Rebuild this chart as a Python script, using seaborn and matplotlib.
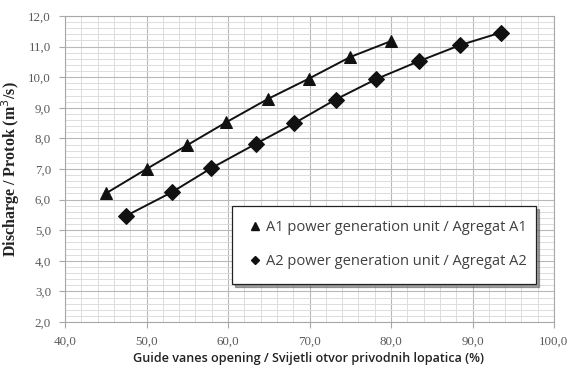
import matplotlib
matplotlib.use("Agg")
import matplotlib.pyplot as plt
from matplotlib.lines import Line2D
from matplotlib.ticker import MultipleLocator, FuncFormatter
import seaborn as sns
import pandas as pd

# Guide vane opening (%) and discharge (m3/s) for the two units
a1_opening = [45.0, 50.0, 55.0, 59.8, 64.9, 69.9, 75.0, 80.0]
a1_discharge = [6.20, 7.00, 7.78, 8.53, 9.29, 9.95, 10.66, 11.18]
a2_opening = [47.5, 53.1, 57.9, 63.4, 68.1, 73.2, 78.2, 83.4, 88.5, 93.5]
a2_discharge = [5.47, 6.24, 7.02, 7.82, 8.49, 9.27, 9.94, 10.52, 11.05, 11.46]

label_a1 = "A1 power generation unit / Agregat A1"
label_a2 = "A2 power generation unit / Agregat A2"

df = pd.concat([
    pd.DataFrame({"opening": a1_opening, "discharge": a1_discharge, "unit": label_a1}),
    pd.DataFrame({"opening": a2_opening, "discharge": a2_discharge, "unit": label_a2}),
])

sns.set_style("white")
plt.rcParams["font.family"] = ["Liberation Serif", "DejaVu Serif"]

fig = plt.figure(figsize=(5.68, 3.70), dpi=100)
ax = fig.add_axes([65 / 568, 1 - 322 / 370, (554 - 65) / 568, (322 - 16) / 370])

sns.lineplot(data=df, x="opening", y="discharge", hue="unit", style="unit",
             markers={label_a1: "^", label_a2: "D"}, dashes=False,
             palette={label_a1: "#111111", label_a2: "#111111"},
             markersize=8, markeredgecolor="#111111", linewidth=1.4,
             sort=False, legend=False, ax=ax, zorder=3)

ax.set_xlim(40, 100)
ax.set_ylim(2, 12)
ax.xaxis.set_major_locator(MultipleLocator(10))
ax.xaxis.set_minor_locator(MultipleLocator(2))
ax.yaxis.set_major_locator(MultipleLocator(1))
ax.yaxis.set_minor_locator(MultipleLocator(0.2))
comma = FuncFormatter(lambda v, p: f"{v:.1f}".replace(".", ","))
ax.xaxis.set_major_formatter(comma)
ax.yaxis.set_major_formatter(comma)

ax.grid(which="major", color="#b8b8b8", linewidth=0.8)
ax.grid(which="minor", color="#dcdcdc", linewidth=0.7)
ax.set_axisbelow(True)
for s in ax.spines.values():
    s.set_color("#a8a8a8")
    s.set_linewidth(0.8)

ax.tick_params(which="major", direction="out", length=4, width=0.8, color="#a8a8a8",
               labelsize=9.4, labelcolor="#5a5a5a", pad=6,
               bottom=True, left=True)
ax.tick_params(axis="x", which="major", pad=6)
ax.tick_params(which="minor", length=0)

ax.set_xlabel("Guide vanes opening / Svijetli otvor privodnih lopatica (%)",
              fontfamily="Open Sans", fontweight="semibold", fontsize=9.1, color="#222222")
ax.set_ylabel("Discharge / Protok (m$^3$/s)", fontweight="bold", fontsize=11.5,
              color="#222222")
ax.xaxis.set_label_coords(0.497, -0.098)
ax.yaxis.set_label_coords(-0.088, 0.5)

handles = [
    Line2D([], [], marker="^", color="#111111", linestyle="none", markersize=6),
    Line2D([], [], marker="D", color="#111111", linestyle="none", markersize=4.5),
]
leg = ax.legend(handles, [label_a1, label_a2], loc="lower left",
                bbox_to_anchor=((232 - 65) / 489, (322 - 284) / 306, (536 - 232) / 489, (284 - 196) / 306),
                mode="expand", prop={"family": "Open Sans", "size": 10.5},
                labelcolor="#404040", frameon=True, fancybox=False, shadow=True,
                edgecolor="#222222", framealpha=1, borderpad=1.0, labelspacing=1.3,
                handletextpad=0.1, handlelength=1.2, borderaxespad=0)
leg.get_frame().set_linewidth(0.9)
leg.set_zorder(5)

fig.savefig("out.png", dpi=100, facecolor="white")
